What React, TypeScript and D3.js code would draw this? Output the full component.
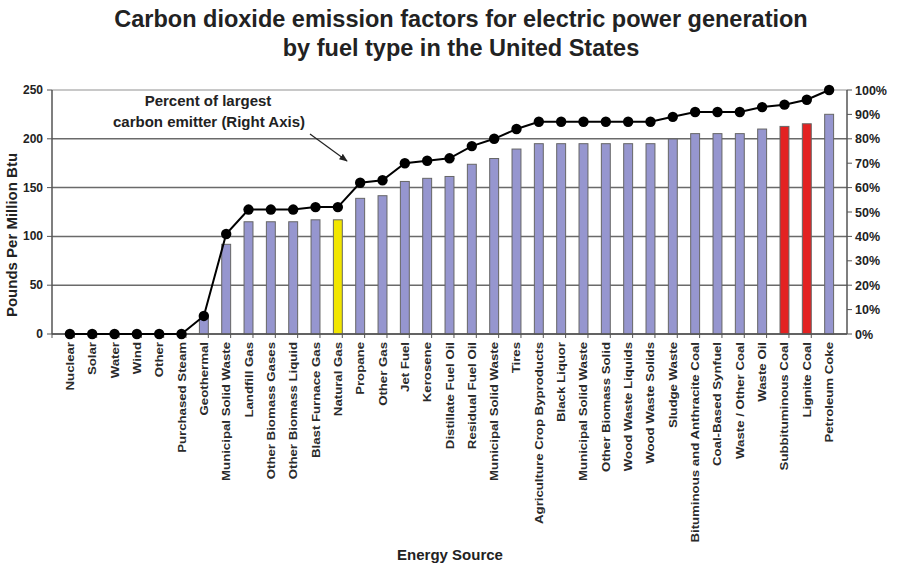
import React from 'react';
import { scaleBand, scaleLinear, line } from 'd3';

const categories = [
  'Nuclear', 'Solar', 'Water', 'Wind', 'Other', 'Purchased Steam', 'Geothermal',
  'Municipal Solid Waste', 'Landfill Gas', 'Other Biomass Gases', 'Other Biomass Liquid',
  'Blast Furnace Gas', 'Natural Gas', 'Propane', 'Other Gas', 'Jet Fuel', 'Kerosene',
  'Distillate Fuel Oil', 'Residual Fuel Oil', 'Municipal Solid Waste', 'Tires',
  'Agriculture Crop Byproducts', 'Black Liquor', 'Municipal Solid Waste',
  'Other Biomass Solid', 'Wood Waste Liquids', 'Wood Waste Solids', 'Sludge Waste',
  'Bituminous and Anthracite Coal', 'Coal-Based Synfuel', 'Waste / Other Coal',
  'Waste Oil', 'Subbituminous Coal', 'Lignite Coal', 'Petroleum Coke',
];

// pounds CO2 per million Btu (left axis)
const emissions = [
  0, 0, 0, 0, 0, 0, 16.6, 91.9, 115, 115, 115, 117, 117, 139, 141.7, 156.3, 159.5,
  161.4, 173.9, 179.8, 189.5, 195, 195, 195, 195, 195, 195, 199.8, 205.3, 205.3,
  205.3, 210, 212.7, 215.4, 225.1,
];

// percent of largest emitter (right axis)
const percents = [
  0, 0, 0, 0, 0, 0, 7.4, 41, 51, 51, 51, 52, 52, 62, 63, 70, 71, 72, 77, 80, 84,
  87, 87, 87, 87, 87, 87, 89, 91, 91, 91, 93, 94, 96, 100,
];

const highlight: Record<string, string> = {
  'Natural Gas': '#f2e600',
  'Subbituminous Coal': '#e32222',
  'Lignite Coal': '#e32222',
};

const leftTicks = [0, 50, 100, 150, 200, 250];
const rightTicks = [0, 10, 20, 30, 40, 50, 60, 70, 80, 90, 100];

const W = 898;
const H = 567;
const left = 52;
const right = 847;
const top = 90;
const bottom = 334;
const font = 'Arial, "Liberation Sans", sans-serif';

export default function App() {
  const x = scaleBand<number>().domain(categories.map((_, i) => i)).range([left, right]).padding(0.6);
  const y = scaleLinear().domain([0, 250]).range([bottom, top]);
  const yp = scaleLinear().domain([0, 100]).range([bottom, top]);
  const cx = (i: number) => (x(i) ?? 0) + x.bandwidth() / 2;
  const step = x.step();

  const pctLine = line<number>()
    .x((_, i) => cx(i))
    .y((d) => yp(d));

  return (
    <svg width={W} height={H} style={{ position: 'absolute', left: 0, top: 0, background: '#fff' }}
      fontFamily={font}>
      <defs>
        <marker id="arr" viewBox="0 0 10 10" refX="9" refY="5" markerWidth="7" markerHeight="7" orient="auto">
          <path d="M0,1 L10,5 L0,9 Z" fill="#222" />
        </marker>
      </defs>
      <text x={461} y={27} textAnchor="middle" fontSize={23.5} fontWeight="bold" fill="#222">
        Carbon dioxide emission factors for electric power generation
      </text>
      <text x={461} y={56} textAnchor="middle" fontSize={23.5} fontWeight="bold" fill="#222">
        by fuel type in the United States
      </text>

      {/* gridlines */}
      {leftTicks.map((t) => (
        <line key={t} x1={left} x2={right} y1={y(t)} y2={y(t)}
          stroke={t === 250 ? '#c8c8c8' : '#6a6a6a'} strokeWidth={t === 250 ? 2 : 1.5} />
      ))}

      {/* bars */}
      {emissions.map((v, i) => (
        <rect key={i} x={x(i)} y={y(v)} width={x.bandwidth()} height={bottom - y(v)}
          fill={highlight[categories[i]] ?? '#9696cf'} stroke="#666" strokeWidth={1} />
      ))}

      {/* axes */}
      <line x1={left} x2={left} y1={top} y2={bottom} stroke="#555" strokeWidth={1.5} />
      <line x1={right} x2={right} y1={top} y2={bottom} stroke="#555" strokeWidth={1.5} />
      <line x1={left} x2={right} y1={bottom} y2={bottom} stroke="#555" strokeWidth={1.5} />
      {leftTicks.map((t) => (
        <g key={t}>
          <line x1={left - 5} x2={left} y1={y(t)} y2={y(t)} stroke="#555" />
          <text x={left - 9} y={y(t) + 4} textAnchor="end" fontSize={12} fontWeight="bold" fill="#222">{t}</text>
        </g>
      ))}
      {rightTicks.map((t) => (
        <g key={t}>
          <line x1={right} x2={right + 5} y1={yp(t)} y2={yp(t)} stroke="#555" />
          <text x={right + 8} y={yp(t) + 4.5} fontSize={12.5} fontWeight="bold" fill="#222">{t}%</text>
        </g>
      ))}
      {categories.map((_, i) => (
        <line key={i} x1={left + step * i} x2={left + step * i} y1={bottom} y2={bottom + 4} stroke="#555" />
      ))}
      {categories.map((c, i) => (
        <text key={i} transform={`translate(${cx(i) + 4},${bottom + 8}) rotate(-90) scale(1.15,1)`} textAnchor="end"
          fontSize={11.5} fontWeight="bold" fill="#2a2a2a">{c}</text>
      ))}

      {/* percent line */}
      <path d={pctLine(percents) ?? ''} fill="none" stroke="#000" strokeWidth={2} />
      {percents.map((p, i) => (
        <circle key={i} cx={cx(i)} cy={yp(p)} r={5.2} fill="#000" />
      ))}

      {/* annotation */}
      <text x={208} y={106} textAnchor="middle" fontSize={15} fontWeight="bold" fill="#222">Percent of largest</text>
      <text x={209} y={127} textAnchor="middle" fontSize={15} fontWeight="bold" fill="#222">carbon emitter (Right Axis)</text>
      <line x1={310} y1={134} x2={347} y2={161} stroke="#222" strokeWidth={1.2} markerEnd="url(#arr)" />

      <text transform={`translate(17,235) rotate(-90)`} textAnchor="middle" fontSize={15}
        fontWeight="bold" fill="#222">Pounds Per Million Btu</text>
      <text x={450} y={560} textAnchor="middle" fontSize={15} fontWeight="bold" fill="#222">Energy Source</text>
    </svg>
  );
}
